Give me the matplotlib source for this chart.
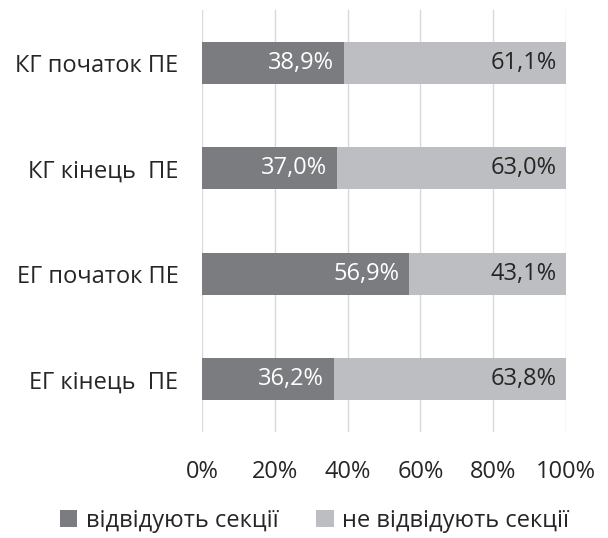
import matplotlib
matplotlib.use("Agg")
import matplotlib.pyplot as plt
from matplotlib.patches import Patch
import numpy as np

plt.rcParams["font.family"] = ["Open Sans", "DejaVu Sans"]

categories = ["КГ початок ПЕ", "КГ кінець  ПЕ", "ЕГ початок ПЕ", "ЕГ кінець  ПЕ"]
attend = [38.9, 37.0, 56.9, 36.2]
not_attend = [61.1, 63.0, 43.1, 63.8]
series_labels = ["відвідують секції", "не відвідують секції"]
xticks = [0, 20, 40, 60, 80, 100]

DARK = "#7b7c7f"
LIGHT = "#bdbec1"
TEXT = "#262626"
FS = 17

fig = plt.figure(figsize=(6.08, 5.38), dpi=100)
ax = fig.add_axes([202 / 608, 1 - 432 / 538, (566 - 202) / 608, (432 - 10) / 538])

y = np.arange(len(categories))
h = 0.4
ax.barh(y, attend, height=h, color=DARK, zorder=2)
ax.barh(y, not_attend, left=attend, height=h, color=LIGHT, zorder=2)

for yi, a, n in zip(y, attend, not_attend):
    ax.text(a - 2.6, yi, f"{a:.1f}%".replace(".", ","), ha="right", va="center",
            color="white", fontsize=FS)
    ax.text(100 - 2.6, yi, f"{n:.1f}%".replace(".", ","), ha="right", va="center",
            color=TEXT, fontsize=FS)

ax.set_xlim(0, 100)
ax.set_ylim(len(categories) - 0.5, -0.5)
ax.set_yticks(y)
ax.set_yticklabels(categories, fontsize=FS, color=TEXT)
ax.set_xticks(xticks)
ax.set_xticklabels([f"{t}%" for t in xticks], fontsize=FS, color=TEXT)
ax.tick_params(axis="both", length=0)
ax.tick_params(axis="y", pad=17)
ax.tick_params(axis="x", pad=20)
ax.grid(axis="x", color="#d9d9d9", linewidth=1.0, zorder=0)
for s in ax.spines.values():
    s.set_visible(False)

handles = [Patch(facecolor=DARK, label=series_labels[0]),
           Patch(facecolor=LIGHT, label=series_labels[1])]
fig.legend(handles=handles, loc="center", bbox_to_anchor=(0.517, 1 - 521 / 538), ncol=2,
           frameon=False, fontsize=FS, handlelength=0.75, handleheight=0.75,
           handletextpad=0.35, columnspacing=1.6, labelcolor=TEXT)

fig.savefig("out.png", dpi=100)
